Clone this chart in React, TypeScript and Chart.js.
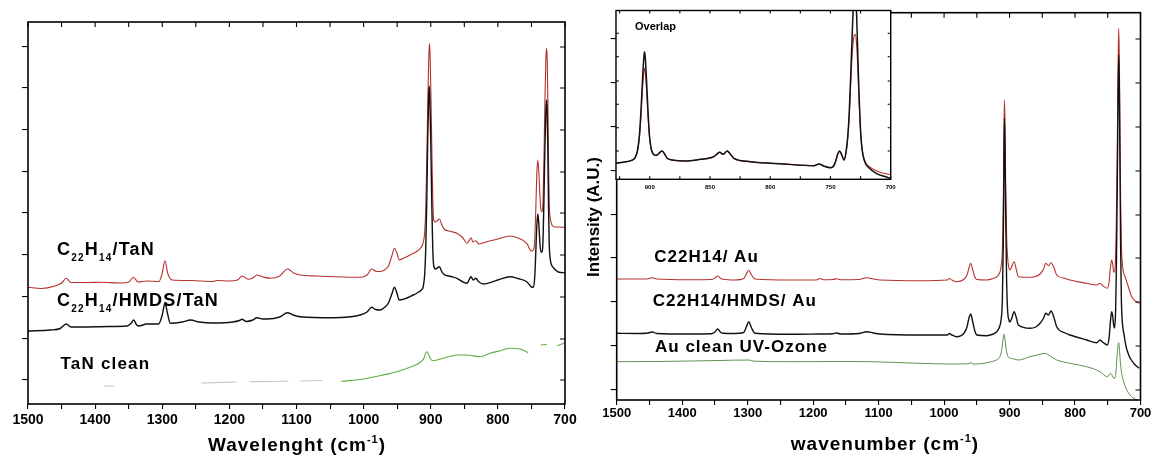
import React, { useEffect, useRef } from 'react';
import { Chart, registerables } from 'chart.js';

Chart.register(...registerables);

const FAM = "'Liberation Sans', Arial, Helvetica, sans-serif";

// ---------- tick values / labels ----------
const X_TICKS = [1500, 1450, 1400, 1350, 1300, 1250, 1200, 1150, 1100, 1050, 1000, 950, 900, 850, 800, 750, 700];
const X_TICK_LABELS = ['1500', '1400', '1300', '1200', '1100', '1000', '900', '800', '700'];
const LEFT_Y_TICKS = [357, 316, 274, 232, 191, 149, 107, 65, 24];
const RIGHT_Y_TICKS = [361, 317, 273, 229, 185, 142, 98, 54, 10];
const INSET_X_TICKS = [925, 900, 875, 850, 825, 800, 775, 750, 725, 700];
const INSET_X_TICK_LABELS = ['900', '850', '800', '750', '700'];
const INSET_Y_TICKS = [146, 122.6, 98.3, 75, 51.6, 28.3];

type P = [number, number | null];

// ---------- left panel (TaN) ----------
const LEFT_RED: P[] = [
  [1500, 116.7], [1480, 115.5], [1460, 118], [1450, 121], [1443, 125.7], [1436, 121.5], [1410, 121.5], [1392, 121.7],
  [1360, 121], [1350, 122], [1343, 126.7], [1336, 122], [1323, 123], [1305, 122.5], [1300, 131], [1296, 143.3],
  [1292, 131], [1285, 124], [1260, 123.5], [1243, 123], [1225, 122.5], [1218, 123.5], [1200, 123], [1188, 124],
  [1181, 128], [1172, 124.7], [1165, 126], [1159, 129], [1150, 127], [1139, 125.7], [1125, 128], [1113.5, 135],
  [1104, 131], [1094.5, 129], [1070, 128], [1045, 127.3], [1005, 126.7], [995, 129], [988, 135], [981, 132.5],
  [975, 132.5], [968, 134.5], [963, 138], [958, 148], [954, 155.7], [950, 150], [947, 144], [940, 146],
  [930.7, 149], [920, 153], [914, 157], [911, 162], [909, 172], [907.5, 195], [906, 240], [904.5, 300],
  [903, 345], [902, 360.7], [901, 350], [899.5, 300], [898, 240], [896.8, 200], [895.5, 184], [893, 182],
  [890, 183.5], [887, 185], [884, 180], [881, 175.7], [870, 172.5], [861, 170.7], [852, 166], [846, 160.7],
  [843, 163], [840, 166.3], [837, 162], [833, 163.3], [828, 160], [821.6, 161.3], [800, 165], [782, 168],
  [770, 166], [757, 160.7], [750, 153], [747, 154], [745, 165], [743.5, 195], [742, 230], [740.5, 244],
  [739, 232], [737.5, 210], [736, 195], [734.5, 192], [733, 200], [731.5, 240], [730, 300], [728.5, 345],
  [727.5, 355.7], [726.5, 345], [725.5, 300], [724.5, 240], [723.5, 200], [722, 186], [720, 180], [717, 177.3],
  [710, 177], [700, 176.7],
];
const LEFT_BLACK: P[] = [
  [1500, 73], [1467, 74], [1452, 75.5], [1443, 80], [1436, 77], [1420, 77], [1380, 77.5], [1352.6, 78],
  [1346, 81], [1342.7, 84], [1338, 79], [1335, 78], [1323, 80], [1305.5, 80], [1300, 89], [1296, 100.7],
  [1292, 90], [1288, 80.7], [1270, 82], [1258, 84], [1245, 82], [1223.6, 81], [1195, 82], [1185, 83.5],
  [1181, 84.7], [1175, 82.5], [1165, 84], [1159, 86.3], [1150, 85], [1144, 85], [1125, 87], [1113.5, 91.3],
  [1105, 89], [1094.5, 87.3], [1045, 86.3], [1005, 89], [995, 92], [988, 96.7], [982, 94.5], [975, 94],
  [968, 97], [963, 101], [958, 110], [954, 116.7], [950, 110], [947, 104], [926, 109], [918, 112],
  [914, 114], [911, 118], [909, 130], [907.5, 155], [906, 200], [904.5, 265], [903, 310], [902.3, 318],
  [901.3, 305], [899.8, 255], [898.3, 195], [897, 155], [895.5, 138], [893, 135], [887, 137.3], [884, 133],
  [881, 130], [870, 127.5], [861, 125.7], [852, 122], [846, 120.7], [843, 124], [840, 127.3], [837, 124],
  [833, 125.7], [828, 122], [821.6, 120], [800, 124], [782, 127.3], [770, 125.5], [757, 122.3], [750, 117],
  [747, 116.7], [745, 128], [743.5, 152], [742, 178], [740.5, 190], [739, 180], [737.5, 162], [736, 152],
  [734.5, 152], [733, 160], [731.5, 200], [730, 255], [728.5, 293], [727.5, 304], [726.5, 293], [725.5, 250],
  [724.5, 195], [723.5, 160], [722, 145], [720, 139], [717, 136], [710, 132], [700, 131.3],
];
const LEFT_GREEN: P[] = [
  [1386, 18], [1372, 18], [1365, null], [1242, 21], [1215, 21.5], [1190, 22], [1182, null], [1170, 22.3],
  [1140, 22.5], [1112, 23], [1104, null], [1094, 23], [1062, 23.5], [1048, null], [1033, 22.7], [1000, 25],
  [975, 28.5], [952, 32], [930, 37], [915, 42], [910, 46], [907.5, 51], [905.5, 52.3], [903, 49], [900, 45],
  [897, 43.3], [887, 44.7], [872, 47.5], [861, 49], [846, 49], [826, 47.3], [811.6, 50.7], [795, 53.5], [782, 55.7],
  [767, 55], [755, 51.3], [748, null], [736, 59], [727, 59.5], [720, null], [712, 58.3], [700, 61],
];

// ---------- right panel (Au) ----------
const RIGHT_RED: P[] = [
  [1500, 121], [1470, 121], [1452, 121.3], [1445.6, 122.3], [1439, 121], [1388, 120.3], [1355, 120.5], [1350, 122],
  [1345.8, 124], [1341, 121.5], [1337, 120.7], [1320, 120], [1306, 121.5], [1302, 126], [1298.4, 129.7], [1294, 125],
  [1288.8, 121], [1235, 120], [1195, 120], [1189.5, 121.5], [1184, 120.3], [1170, 120.5], [1164, 121.3], [1158, 120.3],
  [1130, 120.5], [1118, 122.3], [1108, 121], [1097.8, 120], [1036.7, 119.3], [995, 120], [992, 121.5], [988, 120],
  [980.7, 118.3], [970, 120.5], [965, 125], [962, 132], [959.3, 136.7], [956.5, 131], [953, 123], [950, 120.5],
  [935, 120], [925, 121.5], [920, 123], [916, 126], [913, 133], [911, 150], [909.5, 200], [908.5, 270],
  [907.8, 300], [907, 280], [906, 220], [904.5, 165], [903, 143], [901, 132], [899.5, 130], [897, 133],
  [893, 138.3], [889.5, 130], [886.6, 123.3], [868.7, 122.7], [860, 123.5], [853.4, 126], [848, 131], [844.8, 136.7],
  [840.5, 134.3], [836.6, 137.3], [832, 132], [828, 125], [815, 121.5], [807.6, 120], [782, 116.7], [766.8, 115],
  [761.8, 116.7], [757, 114], [750.6, 111.7], [748, 118], [746, 132], [744, 140], [742.5, 136], [741, 128],
  [739.5, 128], [738, 145], [737, 175], [735.5, 250], [734.3, 330], [733.3, 371.7], [732.3, 340], [731.3, 270],
  [730.3, 200], [729.2, 155], [728, 138], [726, 128], [723.6, 123.3], [718, 112], [713.4, 103.3], [708, 99],
  [701.8, 96.7],
];
const RIGHT_BLACK: P[] = [
  [1500, 66.7], [1470, 66.5], [1452, 67], [1445.6, 68], [1439, 66.5], [1388, 66], [1355, 66.2], [1350, 68],
  [1345.8, 71], [1341, 67.5], [1337, 66.7], [1320, 66.5], [1306, 67.5], [1302, 73], [1298.4, 78.3], [1294, 72],
  [1288.8, 66.7], [1235, 65.7], [1190, 66], [1170, 66.3], [1164, 67], [1158, 66], [1130, 66.5], [1118, 68.3],
  [1108, 67], [1097.8, 66], [1036.7, 65], [995, 65], [992, 66.5], [988, 65], [980.7, 63.3], [970, 66.5],
  [965, 73], [962, 82], [959.3, 86], [956.5, 79], [953, 69], [950, 65], [935, 64.3], [925, 66],
  [920, 68], [916, 72], [913, 80], [911, 100], [909.5, 160], [908.5, 245], [907.8, 282], [907, 255],
  [906, 190], [904.5, 120], [903, 90], [901, 80], [899.5, 78], [897, 81], [893, 88.3], [889.5, 82],
  [886.6, 75], [868.7, 71.7], [860, 73], [853.4, 76.7], [848, 82], [844.8, 86.7], [840.5, 85], [836.6, 89],
  [832, 82], [828, 73.3], [815, 67], [807.6, 65], [782, 60], [766.8, 57.3], [761.8, 60], [757, 57.5],
  [750.6, 55], [748, 62], [746, 78], [744, 88.3], [742.5, 84], [741, 75], [739.5, 72], [738, 90],
  [737, 125], [735.5, 210], [734.3, 300], [733.3, 345], [732.3, 310], [731.3, 230], [730.3, 150], [729.2, 100],
  [728, 80], [725, 65], [722, 53.3], [718, 45], [714, 40], [708, 35], [702, 31.7],
];
const RIGHT_GREEN: P[] = [
  [1500, 38.3], [1440, 38.5], [1388, 39], [1345, 39.5], [1298, 40], [1290, 38.8], [1235, 38.3], [1150, 38.5],
  [1113, 38.3], [1036.7, 36.7], [992, 36], [964, 36.2], [959.3, 37.3], [955, 36], [951, 36], [930, 38],
  [920, 40], [916, 42], [913, 47], [911, 55], [909.5, 63], [908.5, 65.7], [907.3, 62], [906, 55],
  [904.5, 48], [902, 43.3], [897, 41.5], [893, 41], [886.6, 40], [868.7, 43.3], [855, 45.5], [845.8, 46.7],
  [838, 44], [828, 40], [807.6, 36.7], [782, 33.3], [761.8, 28.3], [750.6, 23.3], [745.6, 26.7], [741, 22],
  [739, 21.7], [737.5, 28], [736, 42], [734.5, 54], [733.4, 57.3], [732.3, 52], [731, 40], [729.5, 30],
  [728, 24], [725, 17], [721, 10], [716, 5], [712, 2.5], [705.5, 0],
];

// ---------- inset (Overlap) ----------
const INSET_BLACK: P[] = [
  [928, 16], [920, 17.5], [915, 19], [912, 22], [910, 30], [908.5, 45], [907.2, 70], [906, 100],
  [905, 120], [904.4, 127.6], [903.7, 122], [902.7, 100], [901.5, 70], [900.3, 45], [899, 32], [897.5, 26],
  [895.5, 24], [893.9, 24.3], [891.5, 27], [889.7, 28.3], [887.5, 25], [885.5, 21], [880, 19], [871.7, 18.3],
  [857.9, 20], [846.8, 22.6], [844, 25.5], [842, 27], [839, 25], [835.7, 28.3], [833, 25], [830.2, 21],
  [816.3, 17.6], [788.7, 15.3], [763.7, 13.6], [759.6, 15.3], [755, 13], [749.9, 11.6], [747.5, 13], [745.8, 17.6],
  [744, 25], [742.6, 28.3], [740.5, 24], [738.8, 19.3], [737, 28], [735.5, 45], [734.3, 70], [733, 110],
  [731.8, 150], [730.5, 185], [729.5, 190], [728.3, 165], [727.3, 125], [726.3, 85], [725.3, 55], [724.2, 35],
  [723, 24], [721, 16], [719, 12.6], [712, 6], [705.6, 3], [700, 1],
];
const INSET_RED: P[] = [
  [928, 16], [920, 17.5], [915, 19], [912, 22], [910, 29], [908.5, 42], [907.2, 64], [906, 90],
  [905, 106], [904.4, 111], [903.7, 107], [902.7, 90], [901.5, 64], [900.3, 43], [899, 31], [897.5, 26],
  [895.5, 24], [893.9, 24.3], [891.5, 27], [889.7, 28.3], [887.5, 25], [885.5, 21], [880, 19], [871.7, 18.3],
  [857.9, 20], [846.8, 22.6], [844, 25.5], [842, 27], [839, 25], [835.7, 28.3], [833, 25], [830.2, 21],
  [816.3, 17.6], [788.7, 15.3], [763.7, 13.6], [759.6, 15.3], [755, 13], [749.9, 11.6], [747.5, 13], [745.8, 17.6],
  [744, 25], [742.6, 28.3], [740.5, 24], [738.8, 19.3], [737, 27], [735.5, 43], [734.3, 65], [733, 100],
  [731.8, 128], [730.5, 143], [729.5, 145], [728.3, 135], [727.3, 110], [726.3, 80], [725.3, 53], [724.2, 35],
  [723, 25], [721, 17], [719, 14], [712, 8.5], [705.6, 6], [700, 4.5],
];

const RED = '#b3322c';
const BLACK = '#111111';
const GREEN_L = '#5fae45';
const GREEN_R = '#5f9150';

const xy = (arr: P[]) => arr.map(([x, y]) => ({ x, y }));

type Part = [string, 'n' | 'sub' | 'sup'];

function partFont(kind: string, size: number, small: number) {
  return `bold ${kind === 'n' ? size : small}px ${FAM}`;
}
function richWidth(ctx: any, parts: Part[], size: number, small: number, spacing: number) {
  let w = 0;
  for (const [t, k] of parts) {
    ctx.font = partFont(k, size, small);
    ctx.letterSpacing = `${spacing}px`;
    w += ctx.measureText(t).width;
  }
  return w;
}
function drawRich(ctx: any, parts: Part[], x: number, y: number, size: number, small: number, spacing: number, subDy: number, supDy: number, center = false) {
  ctx.textAlign = 'left';
  ctx.textBaseline = 'alphabetic';
  ctx.fillStyle = '#000';
  let cx = center ? x - richWidth(ctx, parts, size, small, spacing) / 2 : x;
  for (const [t, k] of parts) {
    ctx.font = partFont(k, size, small);
    ctx.letterSpacing = `${spacing}px`;
    const dy = k === 'sub' ? subDy : k === 'sup' ? supDy : 0;
    ctx.fillText(t, cx, y + dy);
    cx += ctx.measureText(t).width;
  }
  ctx.letterSpacing = '0px';
}

type DecorCfg = {
  top?: boolean; right?: boolean; bottom?: boolean; left?: boolean;
  tickLen: number; frameWidth: number; bg?: boolean; yTicks: number[]; xTicks: number[];
  text?: (ctx: any) => void;
};

function makeDecor(id: string, cfg: DecorCfg) {
  return {
    id,
    beforeDraw(chart: any) {
      if (!cfg.bg) return;
      const { ctx, chartArea: a } = chart;
      ctx.save();
      ctx.fillStyle = '#fff';
      ctx.fillRect(a.left, a.top, a.right - a.left, a.bottom - a.top);
      ctx.restore();
    },
    afterDraw(chart: any) {
      const { ctx, chartArea: a, scales } = chart;
      const sx = scales.x;
      const sy = scales.y;
      ctx.save();
      ctx.strokeStyle = '#000';
      ctx.lineWidth = 1.1;
      const tl = cfg.tickLen;
      ctx.beginPath();
      for (const v of cfg.xTicks) {
        const px = sx.getPixelForValue(v);
        if (cfg.top) { ctx.moveTo(px, a.top); ctx.lineTo(px, a.top + tl); }
        if (cfg.bottom) { ctx.moveTo(px, a.bottom); ctx.lineTo(px, a.bottom - tl); }
      }
      for (const v of cfg.yTicks) {
        const py = sy.getPixelForValue(v);
        if (cfg.right) { ctx.moveTo(a.right, py); ctx.lineTo(a.right - tl, py); }
        if (cfg.left) { ctx.moveTo(a.left, py); ctx.lineTo(a.left + tl, py); }
      }
      ctx.stroke();
      ctx.lineWidth = cfg.frameWidth;
      ctx.strokeRect(a.left, a.top, a.right - a.left, a.bottom - a.top);
      if (cfg.text) cfg.text(ctx);
      ctx.restore();
    },
  };
}

function ds(label: string, data: P[], color: string, width: number, extra: any = {}) {
  return {
    label,
    data: xy(data),
    borderColor: color,
    borderWidth: width,
    pointRadius: 0,
    fill: false,
    spanGaps: false,
    cubicInterpolationMode: 'monotone',
    ...extra,
  };
}

function mainOptions(opts: {
  yMax: number; yTicks: number[]; yWidth: number; xHeight: number; pad: any; tickFont: number; tickPad: number;
}) {
  return {
    responsive: false,
    animation: false,
    events: [],
    layout: { padding: opts.pad },
    plugins: { legend: { display: false }, tooltip: { enabled: false }, title: { display: false } },
    scales: {
      x: {
        type: 'linear',
        min: 700,
        max: 1500,
        reverse: true,
        afterBuildTicks: (s: any) => { s.ticks = X_TICKS.map((v) => ({ value: v })); },
        afterFit: (s: any) => { s.height = opts.xHeight; },
        ticks: {
          autoSkip: false,
          maxRotation: 0,
          padding: opts.tickPad,
          color: '#000',
          font: { family: FAM, size: opts.tickFont, weight: 'bold' },
          callback: (v: number) => X_TICK_LABELS.find((l) => Number(l) === v) ?? '',
        },
        grid: { display: true, drawOnChartArea: false, drawTicks: true, tickLength: 5, color: '#000', lineWidth: 1.1 },
        border: { display: false },
      },
      y: {
        type: 'linear',
        min: 0,
        max: opts.yMax,
        afterBuildTicks: (s: any) => { s.ticks = opts.yTicks.map((v) => ({ value: v })); },
        afterFit: (s: any) => { s.width = opts.yWidth; },
        ticks: { display: false },
        grid: { display: true, drawOnChartArea: false, drawTicks: true, tickLength: 6, color: '#000', lineWidth: 1.1 },
        border: { display: false },
      },
    },
  };
}

function useChart(ref: React.RefObject<HTMLCanvasElement | null>, build: () => any) {
  useEffect(() => {
    if (!ref.current) return;
    const chart = new Chart(ref.current, build());
    return () => chart.destroy();
  }, []);
}

export default function App() {
  const leftRef = useRef<HTMLCanvasElement | null>(null);
  const rightRef = useRef<HTMLCanvasElement | null>(null);
  const insetRef = useRef<HTMLCanvasElement | null>(null);

  useChart(leftRef, () => ({
    type: 'line',
    data: {
      datasets: [
        ds('C22H14/HMDS/TaN', LEFT_BLACK, BLACK, 1.4),
        ds('C22H14/TaN', LEFT_RED, RED, 1.1),
        ds('TaN clean', LEFT_GREEN, GREEN_L, 1.1, {
          segment: { borderColor: (c: any) => (c.p0.parsed.x > 1040 ? 'rgba(150,165,150,0.6)' : GREEN_L) },
        }),
      ],
    },
    options: mainOptions({ yMax: 382, yTicks: LEFT_Y_TICKS, yWidth: 28, xHeight: 54, pad: { left: 0, top: 22, right: 15, bottom: 0 }, tickFont: 14, tickPad: 3 }),
    plugins: [
      makeDecor('decorLeft', {
        top: true, right: true, tickLen: 5, frameWidth: 1.6, yTicks: LEFT_Y_TICKS, xTicks: X_TICKS,
        text: (ctx: any) => {
          drawRich(ctx, [['C', 'n'], ['22', 'sub'], ['H', 'n'], ['14', 'sub'], ['/TaN', 'n']], 57, 255, 18, 10, 1.2, 6, 0);
          drawRich(ctx, [['C', 'n'], ['22', 'sub'], ['H', 'n'], ['14', 'sub'], ['/HMDS/TaN', 'n']], 57, 306, 18, 10, 1.2, 6, 0);
          drawRich(ctx, [['TaN clean', 'n']], 60.5, 369, 17, 10, 1.2, 0, 0);
          drawRich(ctx, [['Wavelenght (cm', 'n'], ['-1', 'sup'], [')', 'n']], 297, 451, 19, 11, 1, 0, -8, true);
        },
      }),
    ],
  }));

  useChart(rightRef, () => ({
    type: 'line',
    data: {
      datasets: [
        ds('C22H14/HMDS/ Au', RIGHT_BLACK, BLACK, 1.4),
        ds('C22H14/ Au', RIGHT_RED, RED, 1.1),
        ds('Au clean UV-Ozone', RIGHT_GREEN, GREEN_R, 1.0),
      ],
    },
    options: mainOptions({ yMax: 387.3, yTicks: RIGHT_Y_TICKS, yWidth: 36.7, xHeight: 58, pad: { left: 0, top: 12.7, right: 12.5, bottom: 0 }, tickFont: 13, tickPad: 1 }),
    plugins: [
      makeDecor('decorRight', {
        top: true, right: true, tickLen: 5, frameWidth: 1.6, yTicks: RIGHT_Y_TICKS, xTicks: X_TICKS,
        text: (ctx: any) => {
          drawRich(ctx, [['C22H14/ Au', 'n']], 74.3, 261.5, 17, 10, 1, 0, 0);
          drawRich(ctx, [['C22H14/HMDS/ Au', 'n']], 72.7, 306, 17, 10, 1, 0, 0);
          drawRich(ctx, [['Au clean UV-Ozone', 'n']], 75, 351.7, 17, 10, 1, 0, 0);
          drawRich(ctx, [['wavenumber (cm', 'n'], ['-1', 'sup'], [')', 'n']], 305, 450, 19, 11, 1, 0, -8, true);
          ctx.save();
          ctx.translate(14, 217);
          ctx.rotate(-Math.PI / 2);
          ctx.font = `bold 17px ${FAM}`;
          ctx.textAlign = 'center';
          ctx.textBaseline = 'middle';
          ctx.fillStyle = '#000';
          ctx.fillText('Intensity (A.U.)', 0, 0);
          ctx.restore();
        },
      }),
    ],
  }));

  useChart(insetRef, () => ({
    type: 'line',
    data: {
      datasets: [
        ds('Overlap HMDS', INSET_BLACK, BLACK, 1.5),
        ds('Overlap', INSET_RED, RED, 1.1),
      ],
    },
    options: {
      responsive: false,
      animation: false,
      events: [],
      layout: { padding: { left: 16, top: 10.5, right: 9.3, bottom: 0 } },
      plugins: { legend: { display: false }, tooltip: { enabled: false } },
      scales: {
        x: {
          type: 'linear',
          min: 700,
          max: 928,
          reverse: true,
          afterBuildTicks: (s: any) => { s.ticks = INSET_X_TICKS.map((v) => ({ value: v })); },
          afterFit: (s: any) => { s.height = 20.7; },
          ticks: {
            autoSkip: false,
            maxRotation: 0,
            padding: 4,
            color: '#000',
            font: { family: FAM, size: 6, weight: 'bold' },
            callback: (v: number) => INSET_X_TICK_LABELS.find((l) => Number(l) === v) ?? '',
          },
          grid: { display: false, drawTicks: false },
          border: { display: false },
        },
        y: {
          type: 'linear',
          display: false,
          min: 0,
          max: 168.8,
        },
      },
    },
    plugins: [
      makeDecor('decorInset', {
        top: true, right: true, left: true, bottom: true, tickLen: 3, frameWidth: 1.4, bg: true,
        yTicks: INSET_Y_TICKS, xTicks: INSET_X_TICKS,
        text: (ctx: any) => {
          drawRich(ctx, [['Overlap', 'n']], 35, 29.5, 11, 8, 0, 0, 0);
        },
      }),
    ],
  }));

  return (
    <div style={{ position: 'absolute', left: 0, top: 0, width: 1153, height: 458, background: '#fff', overflow: 'hidden' }}>
      <canvas ref={leftRef} width={580} height={458} style={{ position: 'absolute', left: 0, top: 0 }} />
      <canvas ref={rightRef} width={573} height={458} style={{ position: 'absolute', left: 580, top: 0 }} />
      <canvas ref={insetRef} width={300} height={200} style={{ position: 'absolute', left: 600, top: 0 }} />
    </div>
  );
}
